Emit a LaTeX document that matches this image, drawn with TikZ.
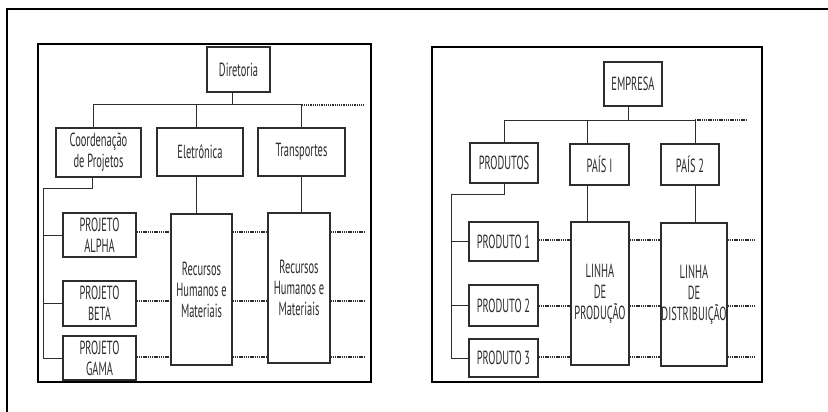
\documentclass[tikz,border=0pt]{standalone}
\usepackage{fontspec}
\setmainfont{PT Sans}[FakeStretch=0.55]
\usetikzlibrary{positioning}
\definecolor{InkGray}{RGB}{45,45,45}

\tikzset{
	box/.style={draw=InkGray, line width=1.3pt, fill=white, inner sep=0pt,
		align=center, text=InkGray, font=\fontsize{19}{21}\selectfont},
	link/.style={draw=InkGray, line width=1pt},
	dots/.style={draw=InkGray, line width=1.3pt, dash pattern=on 1.3pt off 0.9pt},
	panel/.style={draw=black, line width=2.4pt}
}

\begin{document}
\begin{tikzpicture}[x=1pt, y=-1pt]
		\useasboundingbox (0,0) rectangle (828,412);
		\draw[line width=2.2pt] (7,412) -- (7,9) -- (828,9);
		% left chart
		\node[box, minimum width=63pt, minimum height=45pt] (dir) at (238.5,69.5) {Diretoria};
		\node[box, minimum width=85pt, minimum height=49pt] (coord) at (98.5,152.5) {Coordenação\\de Projetos};
		\node[box, minimum width=86pt, minimum height=48pt] (elet) at (200,152) {Eletrônica};
		\node[box, minimum width=87pt, minimum height=48pt] (transp) at (301.5,152) {Transportes};
		\node[box, minimum width=73pt, minimum height=44pt] (alpha) at (99.5,235) {PROJETO\\ALPHA};
		\node[box, minimum width=73pt, minimum height=45pt] (beta) at (99.5,303.5) {PROJETO\\BETA};
		\node[box, minimum width=73pt, minimum height=44pt] (gama) at (99.5,358) {PROJETO\\GAMA};
		\node[box, minimum width=61pt, minimum height=151pt] (rec1) at (201.5,289.5) {Recursos\\Humanos e\\Materiais};
		\node[box, minimum width=62pt, minimum height=150pt] (rec2) at (299,288) {Recursos\\Humanos e\\Materiais};
		\coordinate (busA) at (93,105);
		\coordinate (busAend) at (365,105);
		\coordinate (trunkA) at (43,188);
		\coordinate (rowA1) at (365,232);
		\coordinate (rowA2) at (365,301);
		\coordinate (rowA3) at (365,357);
		\draw[link] ([xshift=-6pt]dir.south) -- ([xshift=-6pt]dir.south |- busA);
		\draw[link] ([xshift=-5pt]coord.north) |- (transp.north |- busA) -- (transp.north);
		\draw[link] ([xshift=-4pt]elet.north) -- ([xshift=-4pt]elet.north |- busA);
		\draw[dots] (transp.north |- busA) -- (busAend);
		\draw[link] ([xshift=-6pt]coord.south) |- (trunkA) -- (trunkA |- gama.west) -- (gama.west);
		\draw[link] (trunkA |- alpha.west) -- (alpha.west);
		\draw[link] (trunkA |- beta.west) -- (beta.west);
		\draw[link] ([xshift=-4pt]elet.south) -- ([xshift=-4pt]elet.south |- rec1.north);
		\draw[link] (transp.south) -- (transp.south |- rec2.north);
		\foreach \p/\r in {alpha/1, beta/2, gama/3}
			\draw[dots] (\p.east |- rowA\r) -- (rec1.west |- rowA\r)
				(rec1.east |- rowA\r) -- (rec2.west |- rowA\r)
				(rec2.east |- rowA\r) -- (rowA\r);
		% right chart
		\node[box, minimum width=58pt, minimum height=44pt] (emp) at (633,84) {EMPRESA};
		\node[box, minimum width=68pt, minimum height=40pt] (prods) at (504,163) {PRODUTOS};
		\node[box, minimum width=59pt, minimum height=41pt] (pais1) at (599.5,164.5) {PAÍS I};
		\node[box, minimum width=58pt, minimum height=41pt] (pais2) at (690,164.5) {PAÍS 2};
		\node[box, minimum width=69pt, minimum height=39pt] (p1) at (503.5,241.5) {PRODUTO 1};
		\node[box, minimum width=69pt, minimum height=41pt] (p2) at (503.5,305.5) {PRODUTO 2};
		\node[box, minimum width=69pt, minimum height=38pt] (p3) at (503.5,358) {PRODUTO 3};
		\node[box, minimum width=58pt, minimum height=143pt] (lprod) at (600,293.5) {LINHA\\DE\\PRODUÇÃO};
		\node[box, minimum width=66pt, minimum height=143pt] (ldist) at (694,294.5) {LINHA\\DE\\DISTRIBUIÇÃO};
		\coordinate (busB) at (503,120);
		\coordinate (busBend) at (747,120);
		\coordinate (trunkB) at (451,194);
		\coordinate (rowB1) at (756,240);
		\coordinate (rowB2) at (756,306);
		\coordinate (rowB3) at (756,357);
		\draw[link] ([xshift=-5pt]emp.south) -- ([xshift=-5pt]emp.south |- busB);
		\draw[link] (prods.north) |- ([xshift=5pt]pais2.north |- busB) -- ([xshift=5pt]pais2.north);
		\draw[link] ([xshift=-12.5pt]pais1.north) -- ([xshift=-12.5pt]pais1.north |- busB);
		\draw[dots] ([xshift=5pt]pais2.north |- busB) -- (busBend);
		\draw[link] (prods.south) |- (trunkB) -- (trunkB |- p3.west) -- (p3.west);
		\draw[link] (trunkB |- p1.west) -- (p1.west);
		\draw[link] (trunkB |- p2.west) -- (p2.west);
		\draw[link] ([xshift=-12.5pt]pais1.south) -- ([xshift=-12.5pt]pais1.south |- lprod.north);
		\draw[link] ([xshift=5pt]pais2.south) -- ([xshift=5pt]pais2.south |- ldist.north);
		\foreach \p/\r in {p1/1, p2/2, p3/3}
			\draw[dots] (\p.east |- rowB\r) -- (lprod.west |- rowB\r)
				(lprod.east |- rowB\r) -- (ldist.west |- rowB\r)
				(ldist.east |- rowB\r) -- (rowB\r);
		% frames
		\draw[panel] (38,44) rectangle (371,382);
		\draw[panel] (432,47) rectangle (762,382);
	\end{tikzpicture}
\end{document}
